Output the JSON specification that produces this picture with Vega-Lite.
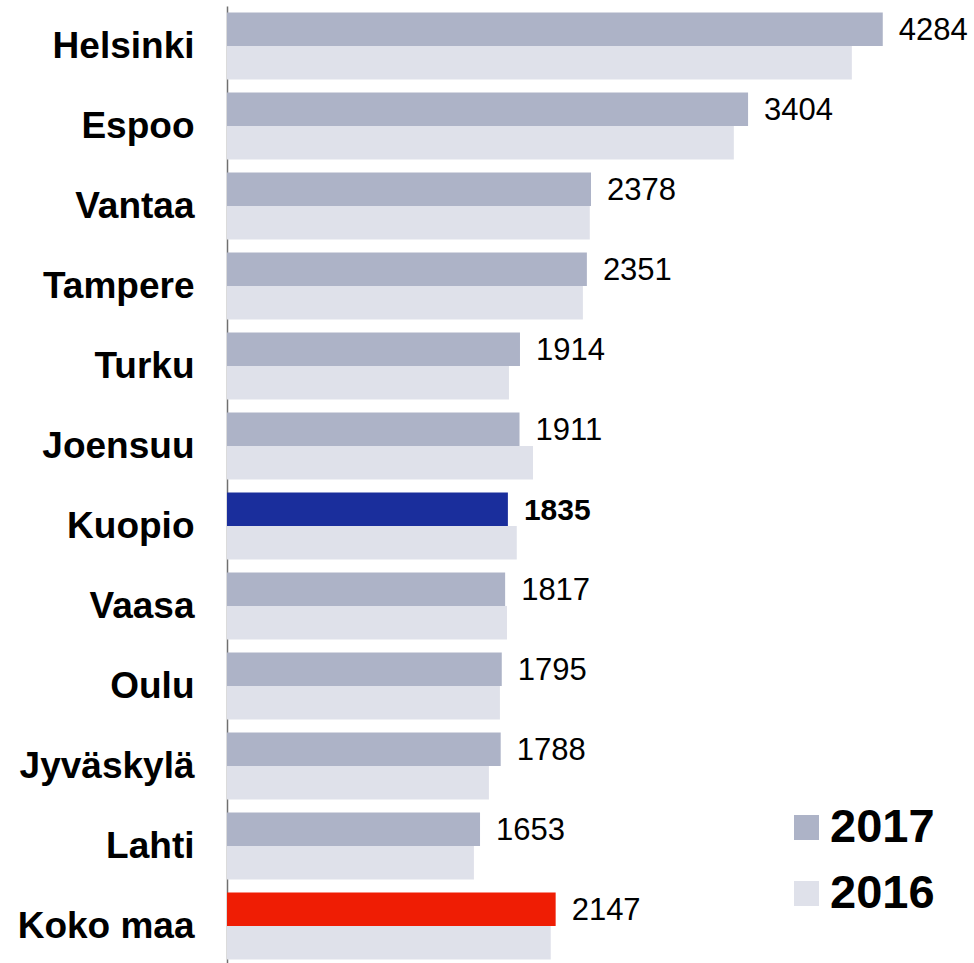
{
  "$schema": "https://vega.github.io/schema/vega-lite/v6.json",
  "width": 747,
  "height": 960,
  "autosize": {"type": "none"},
  "padding": {"left": 227, "top": 6, "right": 0, "bottom": 0},
  "background": "white",
  "config": {"view": {"stroke": null}, "font": "Liberation Sans"},
  "data": {"values": [
    {"city": "Helsinki", "year": "2017", "value": 4284},
    {"city": "Helsinki", "year": "2016", "value": 4082},
    {"city": "Espoo", "year": "2017", "value": 3404},
    {"city": "Espoo", "year": "2016", "value": 3311},
    {"city": "Vantaa", "year": "2017", "value": 2378},
    {"city": "Vantaa", "year": "2016", "value": 2370},
    {"city": "Tampere", "year": "2017", "value": 2351},
    {"city": "Tampere", "year": "2016", "value": 2325},
    {"city": "Turku", "year": "2017", "value": 1914},
    {"city": "Turku", "year": "2016", "value": 1842},
    {"city": "Joensuu", "year": "2017", "value": 1911},
    {"city": "Joensuu", "year": "2016", "value": 1999},
    {"city": "Kuopio", "year": "2017", "value": 1835},
    {"city": "Kuopio", "year": "2016", "value": 1893},
    {"city": "Vaasa", "year": "2017", "value": 1817},
    {"city": "Vaasa", "year": "2016", "value": 1829},
    {"city": "Oulu", "year": "2017", "value": 1795},
    {"city": "Oulu", "year": "2016", "value": 1783},
    {"city": "Jyväskylä", "year": "2017", "value": 1788},
    {"city": "Jyväskylä", "year": "2016", "value": 1711},
    {"city": "Lahti", "year": "2017", "value": 1653},
    {"city": "Lahti", "year": "2016", "value": 1613},
    {"city": "Koko maa", "year": "2017", "value": 2147},
    {"city": "Koko maa", "year": "2016", "value": 2115}
  ]},
  "encoding": {
    "y": {
      "field": "city", "type": "nominal", "sort": null,
      "scale": {"paddingInner": 0.1625, "paddingOuter": 0.08125},
      "axis": {
        "title": null, "ticks": false, "grid": false,
        "domainColor": "#707070", "domainWidth": 1.5,
        "labelFont": "Liberation Sans", "labelFontSize": 37, "labelFontWeight": "bold",
        "labelColor": "#000000", "labelPadding": 33, "labelLimit": 300, "labelOffset": 1
      }
    },
    "yOffset": {"field": "year", "type": "nominal", "sort": ["2017", "2016"], "scale": {"paddingInner": 0, "paddingOuter": 0}},
    "x": {"field": "value", "type": "quantitative", "scale": {"domain": [0, 4880], "nice": false}, "axis": null}
  },
  "layer": [
    {
      "mark": {"type": "bar", "cornerRadius": 0},
      "encoding": {
        "color": {
          "condition": [
            {"test": "datum.year === '2017' && datum.city === 'Kuopio'", "value": "#1a2e9c"},
            {"test": "datum.year === '2017' && datum.city === 'Koko maa'", "value": "#ef1d04"}
          ],
          "field": "year", "type": "nominal",
          "scale": {"domain": ["2017", "2016"], "range": ["#adb3c7", "#dfe1ea"]},
          "legend": {
            "title": null, "orient": "none", "legendX": 556, "legendY": 798,
            "symbolType": "square", "symbolSize": 625, "symbolStrokeWidth": 0,
            "labelFont": "Liberation Sans", "labelFontSize": 47, "labelFontWeight": "bold",
            "labelColor": "#000000", "labelOffset": 0, "rowPadding": 18, "padding": 0
          }
        }
      }
    },
    {
      "transform": [{"filter": "datum.year === '2017' && datum.city !== 'Kuopio'"}],
      "mark": {"type": "text", "align": "left", "baseline": "middle", "dx": 16, "dy": 2, "fontSize": 31, "font": "Liberation Sans", "color": "#000000"},
      "encoding": {"text": {"field": "value", "type": "quantitative", "format": "d"}}
    },
    {
      "transform": [{"filter": "datum.year === '2017' && datum.city === 'Kuopio'"}],
      "mark": {"type": "text", "align": "left", "baseline": "middle", "dx": 16, "dy": 2, "fontSize": 30, "fontWeight": "bold", "font": "Liberation Sans", "color": "#000000"},
      "encoding": {"text": {"field": "value", "type": "quantitative", "format": "d"}}
    }
  ]
}
